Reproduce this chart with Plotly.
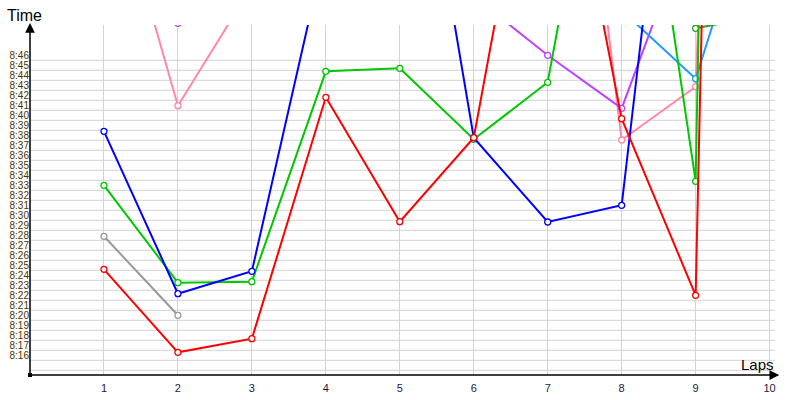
import plotly.graph_objects as go

# Lap numbers
laps = [1, 2, 3, 4, 5, 6, 7, 8, 9, 10]

# Lap times, minutes after 8:00 (values above the visible range estimated from line slopes)
red_times    = [24.6, 16.3, 17.66, 41.8, 29.36, 37.76, 77.8, 39.66, 22.0, 354.5]
blue_times   = [38.4, 22.16, 24.4, 56.9, 81.5, 37.76, 29.33, 31.0, 94.5, None]
green_times  = [33.0, 23.26, 23.36, 44.4, 44.7, 37.6, 43.3, 83.5, 33.4, 418.5]
gray_times   = [27.9, 20.0, None, None, None, None, None, None, None, None]
pink_times   = [66.8, 40.96, 52.9, None, None, None, 98.2, 37.53, 42.86, 225.5]
purple_times = [None, 49.2, None, None, None, 51.9, 46.0, 40.7, 60.6, None]
sky_times    = [None, None, None, None, None, None, None, 50.5, 43.66, 67.0]
dkgreen_times = [None, None, None, None, None, None, None, None, 48.7, 50.1]

# Tick labels
y_minutes = list(range(16, 47))
y_labels = ["8:%02d" % m for m in y_minutes]
x_ticks = [1, 2, 3, 4, 5, 6, 7, 8, 9, 10]

series = [
    ("Gray", gray_times, "#999999"),
    ("Pink", pink_times, "#FF88AA"),
    ("Purple", purple_times, "#C040FF"),
    ("Sky", sky_times, "#1E9BFF"),
    ("DarkGreen", dkgreen_times, "#339933"),
    ("Green", green_times, "#00C800"),
    ("Blue", blue_times, "#0000FF"),
    ("Red", red_times, "#FF0000"),
]

fig = go.Figure()
for name, vals, col in series:
    fig.add_trace(go.Scatter(
        x=laps, y=vals, name=name, mode="lines+markers",
        line=dict(color=col, width=2),
        marker=dict(symbol="circle", size=6, color="white",
                    line=dict(color=col, width=1.3)),
        connectgaps=False, showlegend=False,
    ))

# horizontal grid lines (only up to 8:46 as in reference)
for m in range(14, 46):
    fig.add_shape(type="line", xref="x", yref="y", x0=0, x1=10.07,
                  y0=m + 0.5, y1=m + 0.5,
                  line=dict(color="#D3D3D3", width=1), layer="below")

fig.update_layout(
    width=800, height=400,
    margin=dict(l=30, r=23, t=25, b=25, autoexpand=False),
    paper_bgcolor="white", plot_bgcolor="white",
    font=dict(family="Liberation Sans", color="#222"),
    xaxis=dict(range=[0, 10.1], tickvals=x_ticks, showgrid=True,
               gridcolor="#D3D3D3", gridwidth=1, zeroline=False,
               showline=False, ticks="", automargin=False,
               ticklabelstandoff=5,
               tickfont=dict(size=11, color="#1a1a40")),
    yaxis=dict(range=[14.03, 49.03], tickvals=y_minutes, ticktext=y_labels,
               showgrid=False, zeroline=False, showline=False, ticks="",
               automargin=False, ticklabelstandoff=0,
               tickfont=dict(size=10, color="#4a3500")),
    annotations=[
        dict(x=1.003, y=0, xref="paper", yref="paper", ax=-750, ay=0,
             showarrow=True, arrowhead=2, arrowsize=1.3, arrowwidth=1.5,
             arrowcolor="black", text=""),
        dict(x=0, y=1.006, xref="paper", yref="paper", ax=0, ay=352,
             showarrow=True, arrowhead=2, arrowsize=1.3, arrowwidth=1.5,
             arrowcolor="black", text=""),
        dict(x=-0.0078, y=1.027, xref="paper", yref="paper", text="Time",
             xanchor="center", yanchor="middle",
             showarrow=False, font=dict(size=16, color="black")),
        dict(x=0.974, y=0.031, xref="paper", yref="paper", text="Laps",
             xanchor="center", yanchor="middle",
             showarrow=False, font=dict(size=15, color="black")),
    ],
)
fig.add_shape(type="rect", xref="paper", yref="paper", xsizemode="pixel",
              ysizemode="pixel", xanchor=0, yanchor=0, x0=-2, x1=2, y0=-2, y1=2,
              fillcolor="black", line=dict(width=0))

fig.write_html("out.html", config={"displayModeBar": False},
               post_script="document.body.style.margin='0';document.body.style.padding='0';")
